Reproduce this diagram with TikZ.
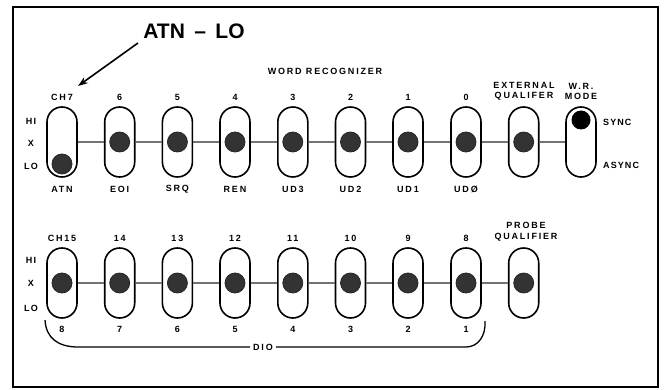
\documentclass[tikz,border=0pt]{standalone}
\usepackage{fontspec}
\setmainfont{Liberation Sans}
\usetikzlibrary{arrows.meta}
\begin{document}
\begin{tikzpicture}[x=1pt,y=-1pt,
  sw/.style={draw=black,line width=1.6pt,rounded corners=15pt,minimum width=30pt,minimum height=70pt,inner sep=0pt,fill=white},
  knob/.style={circle,draw=black!85,line width=0.8pt,fill=black!80,minimum size=20pt,inner sep=0pt},
  knobblack/.style={circle,fill=black,minimum size=19pt,inner sep=0pt},
  wire/.style={draw=black!55,line width=1.2pt},
  lbl/.style={font=\fontsize{9}{10.5}\selectfont\bfseries\addfontfeature{LetterSpace=20},inner sep=0pt,align=center},
  side/.style={font=\fontsize{9}{10.5}\selectfont\bfseries\addfontfeature{LetterSpace=12},inner sep=0pt},
  big/.style={font=\fontsize{21}{23}\selectfont\bfseries,inner sep=0pt}]
\useasboundingbox (0,0) rectangle (666,390);
\draw[line width=1.8pt] (13,7) rectangle (658,387);

% title and arrow
\node[big] (title) at (194,31) {ATN\hspace{0.45em}--\hspace{0.45em}LO};
\coordinate (arrS) at (138,43);
\coordinate (arrE) at (78,86);
\draw[line width=1.6pt,-{Stealth[length=10pt,width=7pt]}] (arrS) -- (arrE);

\node[lbl] (wr) at (325,71) {WORD RECOGNIZER};

% row 1 switches
\foreach \i/\x in {1/62,2/119.7,3/177.4,4/235,5/292.8,6/350.5,7/408,8/466,9/523.7,10/581}{
  \node[sw] (s\i) at (\x,142) {};
}
\foreach \a/\b in {1/2,2/3,3/4,4/5,5/6,6/7,7/8,8/9,9/10}{
  \draw[wire] (s\a.east) -- (s\b.west);
}
\node[knob] (k1) at (62,164) {};
\foreach \i in {2,...,9}{
  \node[knob] (k\i) at (s\i.center) {};
}
\node[knobblack] (k10) at (581,120) {};

% row 1 labels
\foreach \i/\t in {1/CH7,2/6,3/5,4/4,5/3,6/2,7/1,8/0}{
  \node[lbl] (n\i) at ([yshift=45pt]s\i.center) {\t};
}
\foreach \i/\t in {1/ATN,2/EOI,3/SRQ,4/REN,5/UD3,6/UD2,7/UD1,8/UD\O}{
  \node[lbl] (b\i) at ([yshift=-47pt]s\i.center) {\t};
}
\node[lbl] (ext) at (524,91.5) {EXTERNAL\\QUALIFER};
\node[lbl] (wrm) at (581,91.5) {W.R.\\MODE};
\node[side,anchor=west] (sync) at (603,122) {SYNC};
\node[side,anchor=west] (async) at (603,165) {ASYNC};
\node[side] (hi1) at (31,121) {HI};
\node[side] (x1) at (31,143) {X};
\node[side] (lo1) at (31,166) {LO};

% row 2 switches
\foreach \i/\x in {1/62,2/119.7,3/177.4,4/235,5/292.8,6/350.5,7/408,8/466,9/523.7}{
  \node[sw] (t\i) at (\x,283) {};
}
\foreach \a/\b in {1/2,2/3,3/4,4/5,5/6,6/7,7/8,8/9}{
  \draw[wire] (t\a.east) -- (t\b.west);
}
\foreach \i in {1,...,9}{
  \node[knob] (q\i) at (t\i.center) {};
}
\foreach \i/\t in {1/CH15,2/14,3/13,4/12,5/11,6/10,7/9,8/8}{
  \node[lbl] (m\i) at ([yshift=45pt]t\i.center) {\t};
}
\foreach \i/\t in {1/8,2/7,3/6,4/5,5/4,6/3,7/2,8/1}{
  \node[lbl] (c\i) at ([yshift=-46pt]t\i.center) {\t};
}
\node[lbl] (probe) at (526,231.5) {PROBE\\QUALIFIER};
\node[side] (hi2) at (31,260) {HI};
\node[side] (x2) at (31,283) {X};
\node[side] (lo2) at (31,308) {LO};

% DIO brace
\node[lbl,fill=white,inner xsep=3pt] (dio) at (263,347) {DIO};
\coordinate (bl) at (45,320);
\coordinate (br) at (485,321);
\draw[line width=1.3pt] (bl) .. controls (46,338) and (58,347) .. (78,347) -- (dio.west);
\draw[line width=1.3pt] (dio.east) -- (466,347) .. controls (478,347) and (486,336) .. (br);
\end{tikzpicture}
\end{document}
